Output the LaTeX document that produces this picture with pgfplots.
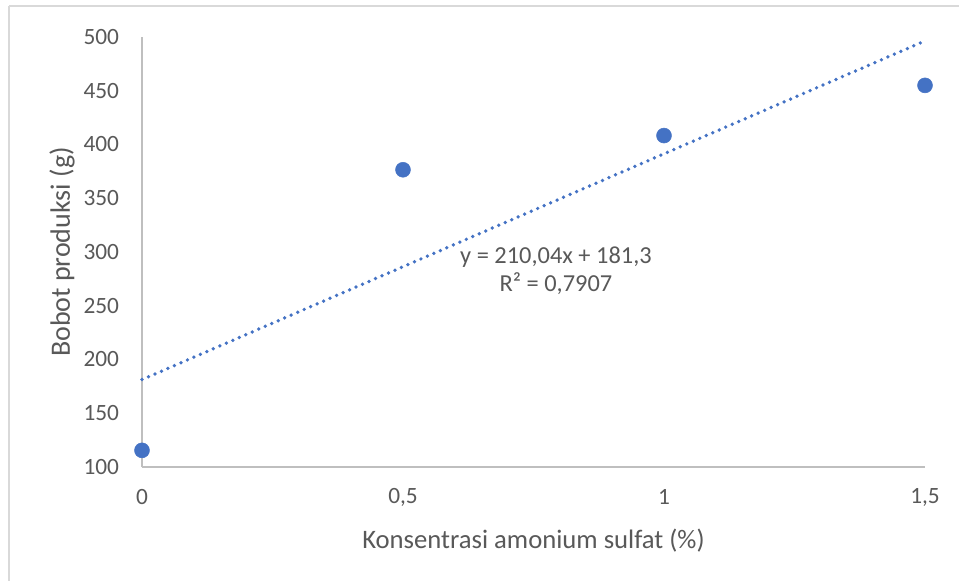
\documentclass[border=0pt]{standalone}
\usepackage{pgfplots}
\pgfplotsset{compat=1.18}
\usepackage{fontspec}
\setmainfont{Carlito}
\definecolor{txt}{HTML}{595959}
\definecolor{axl}{HTML}{BFBFBF}
\definecolor{bord}{HTML}{D9D9D9}
\definecolor{blu}{HTML}{4472C4}
\begin{document}
\begin{tikzpicture}
\useasboundingbox (0pt,0pt) rectangle (719.25pt,-435.75pt);
\fill[white] (0pt,0pt) rectangle (719.25pt,-435.75pt);
\draw[bord, line width=1.5pt] (6.75pt,-4.5pt) -- (6.75pt,-435.75pt);
\draw[bord, line width=1.5pt] (6.75pt,-4.5pt) -- (719.25pt,-4.5pt);
\begin{axis}[
  at={(106.5pt,-350.25pt)}, anchor=south west,
  scale only axis, width=587.25pt, height=322.5pt,
  xmin=0, xmax=1.5, ymin=100, ymax=500,
  axis x line*=bottom, axis y line*=left,
  axis line style={axl, line width=1.1pt, -},
  major tick length=0pt,
  xtick={0,0.5,1,1.5}, xticklabels={0,{0,5},1,{1,5}},
  ytick={100,150,...,500},
  /pgf/number format/assume math mode=true,
  ticklabel style={font=\fontsize{17.5}{20}\selectfont, text=txt, inner sep=0pt},
  yticklabel style={anchor=east, xshift=-17pt},
  xticklabel style={anchor=center, yshift=-22.5pt},
  xlabel={Konsentrasi amonium sulfat (\%)},
  ylabel={Bobot produksi (g)},
  xlabel style={font=\fontsize{20}{24}\selectfont, text=txt, at={(axis description cs:0.5,-0.170)}, anchor=center},
  ylabel style={font=\fontsize{21}{24}\selectfont, text=txt, at={(axis description cs:-0.102,0.5)}, anchor=center},
  clip=false,
]
\addplot[blu, line width=2.8pt, dash pattern=on 0pt off 5.3pt, line cap=round] coordinates {(0,181.3) (1.5,496.36)};
\addplot[only marks, mark=*, mark size=5.6pt, mark options={fill=blu, draw=blu}] coordinates {
(0,115.5) (0.5,376.5) (1,408.3) (1.5,455)};
\node[align=center, text=txt, font=\fontsize{18.3}{21}\selectfont, inner sep=0pt] at (axis cs:0.793,283) {y = 210,04x + 181,3\\R² = 0,7907};
\end{axis}
\end{tikzpicture}
\end{document}
